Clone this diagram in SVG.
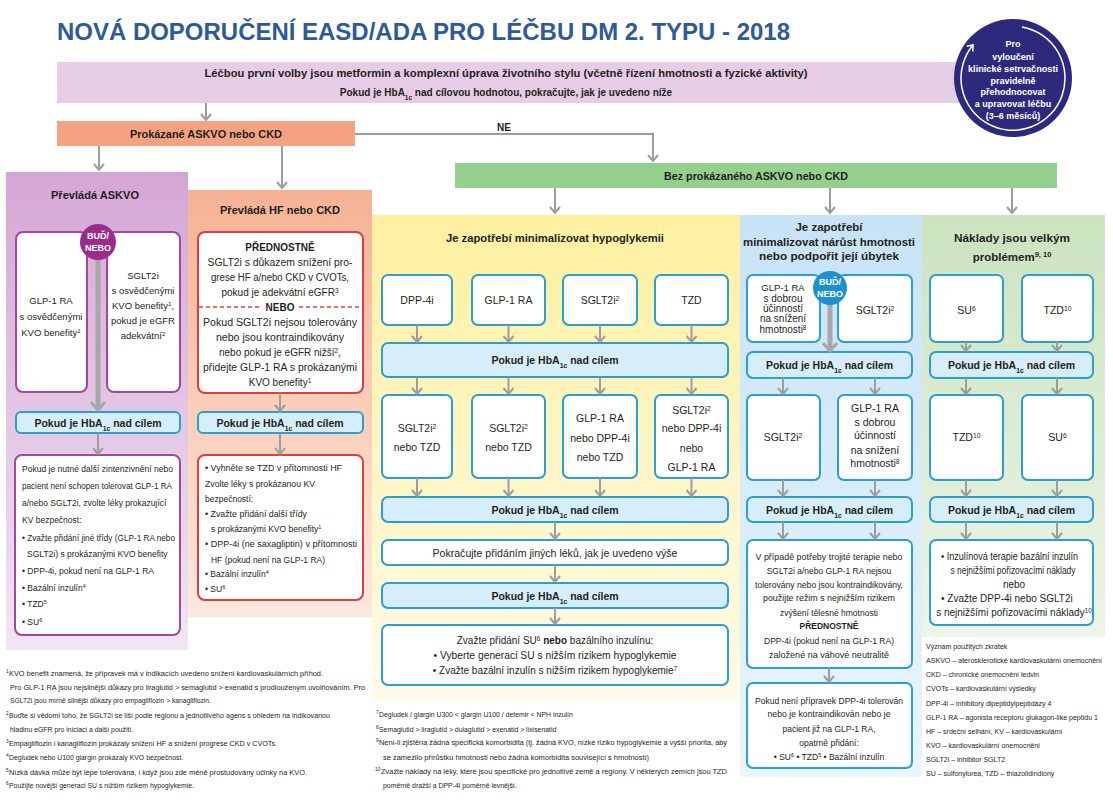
<svg xmlns="http://www.w3.org/2000/svg" width="1113" height="800" viewBox="0 0 1113 800">
<defs>
<style>
text{font-family:"Liberation Sans",Arial,sans-serif;fill:#231f20;font-size:10px}
.title{font-weight:bold;font-size:23px;fill:#2e5a9a}
.b{font-weight:bold}
.m{text-anchor:middle}
.h{font-size:11.5px;font-weight:bold}
.hb{font-size:10.5px;font-weight:bold;text-anchor:middle}
.k{font-size:10.5px}
.p{font-size:9.5px}
.s{font-size:8.5px}
.fn{font-size:6.9px}
.fs{font-size:4.8px}
.lg{font-size:7px}
.w{fill:#fff;font-weight:bold;font-size:9px}
.sup{font-size:65%;baseline-shift:super}
.sub{font-size:65%;baseline-shift:sub}
.box{fill:#fff;stroke:#2b9fd3;stroke-width:2}
.hba{fill:#d6eefb;stroke:#2b9fd3;stroke-width:2}
.pbox{fill:#fff;stroke:#a4489f;stroke-width:2}
.rbox{fill:#fff;stroke:#e33c3c;stroke-width:2}
.ar{stroke:#9d9d9d;stroke-width:2;fill:none;marker-end:url(#ah)}
.thick{stroke:#a8a8a8;stroke-width:5;fill:none;marker-end:url(#ah2)}
</style>
<marker id="ah" markerUnits="userSpaceOnUse" markerWidth="12" markerHeight="12" viewBox="0 0 12 12" refX="8" refY="6" orient="auto">
<path d="M2,1 L8,6 L2,11" fill="none" stroke="#9d9d9d" stroke-width="2"/>
</marker>
<marker id="ah2" markerUnits="userSpaceOnUse" markerWidth="16" markerHeight="16" viewBox="0 0 16 16" refX="11" refY="8" orient="auto">
<path d="M3,1 L11,8 L3,15" fill="none" stroke="#a8a8a8" stroke-width="3"/>
</marker>
<marker id="ahw" markerUnits="userSpaceOnUse" markerWidth="10" markerHeight="10" viewBox="0 0 10 10" refX="7" refY="5" orient="auto">
<path d="M2,1 L7,5 L2,9" fill="none" stroke="#fff" stroke-width="1.5"/>
</marker>
<linearGradient id="gP" x1="0" y1="0" x2="0" y2="1"><stop offset="0" stop-color="#d5a6d5"/><stop offset="1" stop-color="#f1e5f3"/></linearGradient>
<linearGradient id="gO" x1="0" y1="0" x2="0" y2="1"><stop offset="0" stop-color="#f6b293"/><stop offset="1" stop-color="#fde9de"/></linearGradient>
<linearGradient id="gY" x1="0" y1="0" x2="0" y2="1"><stop offset="0" stop-color="#fdf0a0"/><stop offset="1" stop-color="#fffbe8"/></linearGradient>
<linearGradient id="gB" x1="0" y1="0" x2="0" y2="1"><stop offset="0" stop-color="#c7e3f7"/><stop offset="1" stop-color="#eaf5fc"/></linearGradient>
<linearGradient id="gG" x1="0" y1="0" x2="0" y2="1"><stop offset="0" stop-color="#cbe3bf"/><stop offset="1" stop-color="#ecf5e7"/></linearGradient>
</defs>
<rect width="1113" height="800" fill="#fff"/>

<text class="title" x="57" y="40" textLength="733" lengthAdjust="spacingAndGlyphs">NOVÁ DOPORUČENÍ EASD/ADA PRO LÉČBU DM 2. TYPU - 2018</text>

<g id="first-line">
<rect x="57" y="62" width="905" height="41" fill="#e7cce6"/>
<text class="m b" x="506" y="77" textLength="603" lengthAdjust="spacingAndGlyphs">Léčbou první volby jsou metformin a komplexní úprava životního stylu (včetně řízení hmotnosti a fyzické aktivity)</text>
<text class="m b" x="506" y="96">Pokud je HbA<tspan class="sub">1c</tspan> nad cílovou hodnotou, pokračujte, jak je uvedeno níže</text>
</g>

<g id="reassess">
<circle cx="1013" cy="78" r="59" fill="#2d2a7d"/>
<path d="M1022,27 A52,52 0 1 1 973,45" fill="none" stroke="#fff" stroke-width="1.5" marker-end="url(#ahw)"/>
<text class="m w" x="1013" y="47">Pro</text>
<text class="m w" x="1013" y="60">vyloučení</text>
<text class="m w" x="1013" y="72" textLength="90" lengthAdjust="spacingAndGlyphs">klinické setrvačnosti</text>
<text class="m w" x="1013" y="84">pravidelně</text>
<text class="m w" x="1013" y="95">přehodnocovat</text>
<text class="m w" x="1013" y="107">a upravovat léčbu</text>
<text class="m w" x="1013" y="119">(3–6 měsíců)</text>
</g>

<g id="ascvd-ckd">
<rect x="57" y="121" width="298" height="25" fill="#f4a282"/>
<text class="m h" x="206" y="138" textLength="152" lengthAdjust="spacingAndGlyphs">Prokázané ASKVO nebo CKD</text>
</g>

<g id="no-ascvd">
<rect x="455" y="163" width="602" height="25" fill="#93cf8d"/>
<text class="m h" x="756" y="180" textLength="184" lengthAdjust="spacingAndGlyphs">Bez prokázaného ASKVO nebo CKD</text>
</g>

<g id="col-askvo">
<rect x="6" y="172" width="182" height="478" fill="url(#gP)"/>
<text class="m h" x="95" y="199" textLength="88" lengthAdjust="spacingAndGlyphs">Převládá ASKVO</text>
</g>
<g id="col-hf-ckd">
<rect x="188" y="190" width="184" height="427" fill="url(#gO)"/>
<text class="m h" x="280" y="214" textLength="120" lengthAdjust="spacingAndGlyphs">Převládá HF nebo CKD</text>
</g>
<g id="col-hypo">
<rect x="372" y="215" width="368" height="485" fill="url(#gY)"/>
<text class="m h" x="555" y="242" font-size="11" textLength="218" lengthAdjust="spacingAndGlyphs">Je zapotřebí minimalizovat hypoglykemii</text>
</g>
<g id="col-weight">
<rect x="740" y="215" width="182" height="562" fill="url(#gB)"/>
<text class="m h" x="829" y="231">Je zapotřebí</text>
<text class="m h" x="829" y="246" textLength="172" lengthAdjust="spacingAndGlyphs">minimalizovat nárůst hmotnosti</text>
<text class="m h" x="829" y="260" textLength="140" lengthAdjust="spacingAndGlyphs">nebo podpořit její úbytek</text>
</g>
<g id="col-cost">
<rect x="922" y="215" width="183" height="422" fill="url(#gG)"/>
<text class="m h" x="1012" y="242" textLength="116" lengthAdjust="spacingAndGlyphs">Náklady jsou velkým</text>
<text class="m h" x="1012" y="261">problémem<tspan class="sup">9, 10</tspan></text>
</g>

<!-- ASKVO column -->
<g id="askvo-glp1">
<rect class="pbox" x="16" y="232" width="71" height="160" rx="7"/>
<text class="m p" x="51" y="304">GLP-1 RA</text>
<text class="m p" x="51" y="320">s osvědčenými</text>
<text class="m p" x="51" y="336">KVO benefity<tspan class="sup">1</tspan></text>
</g>
<g id="askvo-sglt2">
<rect class="pbox" x="107" y="232" width="73" height="160" rx="7"/>
<text class="m p" x="143" y="279">SGLT2i</text>
<text class="m p" x="143" y="294">s osvědčenými</text>
<text class="m p" x="143" y="309">KVO benefity<tspan class="sup">1</tspan>,</text>
<text class="m p" x="143" y="324">pokud je eGFR</text>
<text class="m p" x="143" y="339">adekvátní<tspan class="sup">2</tspan></text>
</g>
<g id="askvo-hba">
<rect class="hba" x="16" y="412" width="164" height="21" rx="5"/>
<text class="hb" x="98" y="427">Pokud je HbA<tspan class="sub">1c</tspan> nad cílem</text>
</g>
<g id="askvo-next">
<rect class="pbox" x="15" y="455" width="165" height="180" rx="7"/>
<text class="s" x="22" y="472" textLength="151" lengthAdjust="spacingAndGlyphs">Pokud je nutné další zintenzivnění nebo</text>
<text class="s" x="22" y="489" textLength="150" lengthAdjust="spacingAndGlyphs">pacient není schopen tolerovat GLP-1 RA</text>
<text class="s" x="22" y="506">a/nebo SGLT2i, zvolte léky prokazující</text>
<text class="s" x="22" y="523">KV bezpečnost:</text>
<text class="s" x="22" y="541" textLength="153" lengthAdjust="spacingAndGlyphs">• Zvažte přidání jiné třídy (GLP-1 RA nebo</text>
<text class="s" x="27" y="557">SGLT2i) s prokázanými KVO benefity</text>
<text class="s" x="22" y="574">• DPP-4i, pokud není na GLP-1 RA</text>
<text class="s" x="22" y="591">• Bazální inzulín<tspan class="sup">4</tspan></text>
<text class="s" x="22" y="607">• TZD<tspan class="sup">5</tspan></text>
<text class="s" x="22" y="625">• SU<tspan class="sup">6</tspan></text>
</g>

<!-- HF/CKD column -->
<g id="hf-preferred">
<rect class="rbox" x="198" y="232" width="165" height="161" rx="7"/>
<text class="m b" x="280" y="251">PŘEDNOSTNĚ</text>
<text class="m" x="280" y="266" textLength="145" lengthAdjust="spacingAndGlyphs">SGLT2i s důkazem snížení pro-</text>
<text class="m" x="280" y="281" textLength="138" lengthAdjust="spacingAndGlyphs">grese HF a/nebo CKD v CVOTs,</text>
<text class="m" x="280" y="296">pokud je adekvátní eGFR<tspan class="sup">3</tspan></text>
<path d="M199,307 H261 M299,307 H362" stroke="#e33c3c" stroke-width="1.5" stroke-dasharray="4,3" fill="none"/>
<text class="m b" x="280" y="311">NEBO</text>
<text class="m" x="280" y="326" textLength="154" lengthAdjust="spacingAndGlyphs">Pokud SGLT2i nejsou tolerovány</text>
<text class="m" x="280" y="341" textLength="128" lengthAdjust="spacingAndGlyphs">nebo jsou kontraindikovány</text>
<text class="m" x="280" y="356">nebo pokud je eGFR nižší<tspan class="sup">2</tspan>,</text>
<text class="m" x="280" y="371" textLength="154" lengthAdjust="spacingAndGlyphs">přidejte GLP-1 RA s prokázanými</text>
<text class="m" x="280" y="386">KVO benefity<tspan class="sup">1</tspan></text>
</g>
<g id="hf-hba">
<rect class="hba" x="198" y="412" width="165" height="21" rx="5"/>
<text class="hb" x="280" y="427">Pokud je HbA<tspan class="sub">1c</tspan> nad cílem</text>
</g>
<g id="hf-next">
<rect class="rbox" x="198" y="455" width="165" height="145" rx="7"/>
<text class="s" x="205" y="471" textLength="137" lengthAdjust="spacingAndGlyphs">• Vyhněte se TZD v přítomnosti HF</text>
<text class="s" x="205" y="487" textLength="110" lengthAdjust="spacingAndGlyphs">Zvolte léky s prokázanou KV</text>
<text class="s" x="205" y="502">bezpečností:</text>
<text class="s" x="205" y="517" textLength="102" lengthAdjust="spacingAndGlyphs">• Zvažte přidání další třídy</text>
<text class="s" x="211" y="532">s prokázanými KVO benefity<tspan class="sup">1</tspan></text>
<text class="s" x="205" y="547" textLength="152" lengthAdjust="spacingAndGlyphs">• DPP-4i (ne saxagliptin) v přítomnosti</text>
<text class="s" x="211" y="563" textLength="114" lengthAdjust="spacingAndGlyphs">HF (pokud není na GLP-1 RA)</text>
<text class="s" x="205" y="577">• Bazální inzulín<tspan class="sup">4</tspan></text>
<text class="s" x="205" y="592">• SU<tspan class="sup">6</tspan></text>
</g>

<!-- Hypoglycaemia column -->
<g id="hypo-dpp4"><rect class="box" x="382" y="275" width="70" height="50" rx="6"/><text class="m k" x="417" y="304">DPP-4i</text></g>
<g id="hypo-glp1"><rect class="box" x="472" y="275" width="73" height="50" rx="6"/><text class="m k" x="508.5" y="304">GLP-1 RA</text></g>
<g id="hypo-sglt2"><rect class="box" x="563" y="275" width="74" height="50" rx="6"/><text class="m k" x="600" y="304">SGLT2i<tspan class="sup">2</tspan></text></g>
<g id="hypo-tzd"><rect class="box" x="655" y="275" width="73" height="50" rx="6"/><text class="m k" x="691.5" y="304">TZD</text></g>
<g id="hypo-hba1">
<rect class="hba" x="382" y="343" width="346" height="34" rx="6"/>
<text class="hb" x="555" y="364">Pokud je HbA<tspan class="sub">1c</tspan> nad cílem</text>
</g>
<g id="hypo-a"><rect class="box" x="382" y="395" width="70" height="83" rx="6"/>
<text class="m k" x="417" y="432">SGLT2i<tspan class="sup">2</tspan></text><text class="m k" x="417" y="451">nebo TZD</text></g>
<g id="hypo-b"><rect class="box" x="472" y="395" width="73" height="83" rx="6"/>
<text class="m k" x="508.5" y="432">SGLT2i<tspan class="sup">2</tspan></text><text class="m k" x="508.5" y="451">nebo TZD</text></g>
<g id="hypo-c"><rect class="box" x="563" y="395" width="74" height="83" rx="6"/>
<text class="m k" x="600" y="422">GLP-1 RA</text><text class="m k" x="600" y="442">nebo DPP-4i</text><text class="m k" x="600" y="461">nebo TZD</text></g>
<g id="hypo-d"><rect class="box" x="655" y="395" width="73" height="83" rx="6"/>
<text class="m k" x="691.5" y="414">SGLT2i<tspan class="sup">2</tspan></text><text class="m k" x="691.5" y="432">nebo DPP-4i</text><text class="m k" x="691.5" y="452">nebo</text><text class="m k" x="691.5" y="471">GLP-1 RA</text></g>
<g id="hypo-hba2">
<rect class="hba" x="382" y="497" width="346" height="25" rx="6"/>
<text class="hb" x="555" y="514">Pokud je HbA<tspan class="sub">1c</tspan> nad cílem</text>
</g>
<g id="hypo-continue">
<rect class="box" x="382" y="540" width="346" height="25" rx="6"/>
<text class="m" x="555" y="557" textLength="245" lengthAdjust="spacingAndGlyphs">Pokračujte přidáním jiných léků, jak je uvedeno výše</text>
</g>
<g id="hypo-hba3">
<rect class="hba" x="382" y="583" width="346" height="25" rx="6"/>
<text class="hb" x="555" y="600">Pokud je HbA<tspan class="sub">1c</tspan> nad cílem</text>
</g>
<g id="hypo-final">
<rect class="box" x="382" y="625" width="346" height="60" rx="6"/>
<text class="m" x="555" y="644">Zvažte přidání SU<tspan class="sup">6</tspan> <tspan class="b">nebo</tspan> bazálního inzulínu:</text>
<text class="m" x="555" y="659" textLength="243" lengthAdjust="spacingAndGlyphs">• Vyberte generaci SU s nižším rizikem hypoglykemie</text>
<text class="m" x="555" y="674">• Zvažte bazální inzulín s nižším rizikem hypoglykemie<tspan class="sup">7</tspan></text>
</g>

<!-- Weight column -->
<g id="wt-glp1">
<rect class="box" x="747" y="275" width="73" height="67" rx="6"/>
<text class="m p" x="783" y="291">GLP-1 RA</text>
<text class="m" x="783" y="302" font-size="8.5">s dobrou</text>
<text class="m" x="783" y="312" font-size="8.5">účinností</text>
<text class="m" x="783" y="322" font-size="8.5">na snížení</text>
<text class="m" x="783" y="333" font-size="8.5">hmotnosti<tspan class="sup">8</tspan></text>
</g>
<g id="wt-sglt2"><rect class="box" x="838" y="275" width="74" height="67" rx="6"/><text class="m k" x="875" y="314">SGLT2i<tspan class="sup">2</tspan></text></g>
<g id="wt-hba1">
<rect class="hba" x="747" y="352" width="165" height="26" rx="6"/>
<text class="hb" x="829.5" y="369">Pokud je HbA<tspan class="sub">1c</tspan> nad cílem</text>
</g>
<g id="wt-sglt2b"><rect class="box" x="747" y="395" width="73" height="85" rx="6"/><text class="m k" x="783" y="441">SGLT2i<tspan class="sup">2</tspan></text></g>
<g id="wt-glp1b">
<rect class="box" x="838" y="395" width="74" height="85" rx="6"/>
<text class="m k" x="875" y="412">GLP-1 RA</text>
<text class="m k" x="875" y="426">s dobrou</text>
<text class="m k" x="875" y="439">účinností</text>
<text class="m k" x="875" y="454">na snížení</text>
<text class="m k" x="875" y="467">hmotnosti<tspan class="sup">8</tspan></text>
</g>
<g id="wt-hba2">
<rect class="hba" x="747" y="497" width="165" height="25" rx="6"/>
<text class="hb" x="829.5" y="514">Pokud je HbA<tspan class="sub">1c</tspan> nad cílem</text>
</g>
<g id="wt-triple">
<rect class="box" x="747" y="540" width="165" height="128" rx="6"/>
<text class="m s" x="829" y="560" textLength="147" lengthAdjust="spacingAndGlyphs">V případě potřeby trojité terapie nebo</text>
<text class="m s" x="829" y="574">SGLT2i a/nebo GLP-1 RA nejsou</text>
<text class="m s" x="829" y="588" textLength="148" lengthAdjust="spacingAndGlyphs">tolerovány nebo jsou kontraindikovány,</text>
<text class="m s" x="829" y="601" textLength="132" lengthAdjust="spacingAndGlyphs">použijte režim s nejnižším rizikem</text>
<text class="m s" x="829" y="616">zvýšení tělesné hmotnosti</text>
<text class="m s b" x="829" y="629">PŘEDNOSTNĚ</text>
<text class="m s" x="829" y="644" textLength="130" lengthAdjust="spacingAndGlyphs">DPP-4i (pokud není na GLP-1 RA)</text>
<text class="m s" x="829" y="658" textLength="120" lengthAdjust="spacingAndGlyphs">založené na váhové neutralitě</text>
</g>
<g id="wt-last">
<rect class="box" x="747" y="683" width="165" height="85" rx="6"/>
<text class="m s" x="829" y="704" textLength="148" lengthAdjust="spacingAndGlyphs">Pokud není přípravek DPP-4i tolerován</text>
<text class="m s" x="829" y="717" textLength="123" lengthAdjust="spacingAndGlyphs">nebo je kontraindikován nebo je</text>
<text class="m s" x="829" y="732">pacient již na GLP-1 RA,</text>
<text class="m s" x="829" y="746">opatrně přidání:</text>
<text class="m s" x="829" y="760">• SU<tspan class="sup">6</tspan> • TZD<tspan class="sup">5</tspan> • Bazální inzulín</text>
</g>

<!-- Cost column -->
<g id="cost-su"><rect class="box" x="930" y="275" width="73" height="67" rx="6"/><text class="m k" x="966.5" y="314">SU<tspan class="sup">6</tspan></text></g>
<g id="cost-tzd"><rect class="box" x="1022" y="275" width="71" height="67" rx="6"/><text class="m k" x="1057.5" y="314">TZD<tspan class="sup">10</tspan></text></g>
<g id="cost-hba1">
<rect class="hba" x="930" y="352" width="163" height="26" rx="6"/>
<text class="hb" x="1011.5" y="369">Pokud je HbA<tspan class="sub">1c</tspan> nad cílem</text>
</g>
<g id="cost-tzdb"><rect class="box" x="930" y="395" width="73" height="85" rx="6"/><text class="m k" x="966.5" y="441">TZD<tspan class="sup">10</tspan></text></g>
<g id="cost-sub"><rect class="box" x="1022" y="395" width="71" height="85" rx="6"/><text class="m k" x="1057.5" y="441">SU<tspan class="sup">6</tspan></text></g>
<g id="cost-hba2">
<rect class="hba" x="930" y="497" width="163" height="25" rx="6"/>
<text class="hb" x="1011.5" y="514">Pokud je HbA<tspan class="sub">1c</tspan> nad cílem</text>
</g>
<g id="cost-final">
<rect class="box" x="930" y="540" width="163" height="85" rx="6"/>
<text x="941" y="560" font-size="8.3" textLength="137" lengthAdjust="spacingAndGlyphs">• Inzulínová terapie bazální inzulín</text>
<text class="m" x="1013" y="574" font-size="8.3" textLength="125" lengthAdjust="spacingAndGlyphs">s nejnižšími pořizovacími náklady</text>
<text class="m" x="1014" y="588" font-size="8.3">nebo</text>
<text x="941" y="602" font-size="8.3">• Zvažte DPP-4i nebo SGLT2i</text>
<text class="m" x="1014" y="616" font-size="8.3">s nejnižšími pořizovacími náklady<tspan class="sup">10</tspan></text>
</g>

<g id="connectors">
<path class="ar" d="M206,103 V120"/>
<path class="ar" d="M99,146 V170"/>
<path class="ar" d="M282,146 V188"/>
<path class="ar" d="M355,134 H653 V161"/>
<path class="ar" d="M555,188 V213"/>
<path class="ar" d="M830,188 V213"/>
<path class="ar" d="M1012,188 V213"/>
<path class="thick" d="M98,258 V410"/>
<path class="ar" d="M98,433 V454"/>
<path class="ar" d="M280,393 V411"/>
<path class="ar" d="M280,433 V454"/>
<path class="ar" d="M417,325 V342"/>
<path class="ar" d="M508.5,325 V342"/>
<path class="ar" d="M600,325 V342"/>
<path class="ar" d="M691.5,325 V342"/>
<path class="ar" d="M417,377 V394"/>
<path class="ar" d="M508.5,377 V394"/>
<path class="ar" d="M600,377 V394"/>
<path class="ar" d="M691.5,377 V394"/>
<path class="ar" d="M417,478 V496"/>
<path class="ar" d="M508.5,478 V496"/>
<path class="ar" d="M600,478 V496"/>
<path class="ar" d="M691.5,478 V496"/>
<path class="ar" d="M555,522 V539"/>
<path class="ar" d="M555,565 V582"/>
<path class="ar" d="M555,608 V624"/>
<path class="thick" d="M830,303 V351"/>
<path class="ar" d="M783,378 V394"/>
<path class="ar" d="M875,378 V394"/>
<path class="ar" d="M783,480 V496"/>
<path class="ar" d="M875,480 V496"/>
<path class="ar" d="M783,522 V539"/>
<path class="ar" d="M875,522 V539"/>
<path class="ar" d="M829,668 V682"/>
<path class="ar" d="M966,342 V351"/>
<path class="ar" d="M1057,342 V351"/>
<path class="ar" d="M966,378 V394"/>
<path class="ar" d="M1057,378 V394"/>
<path class="ar" d="M966,480 V496"/>
<path class="ar" d="M1057,480 V496"/>
<path class="ar" d="M966,522 V539"/>
<path class="ar" d="M1057,522 V539"/>
<text class="b" x="497" y="131" font-size="11.5">NE</text>
</g>

<g id="either-askvo">
<circle cx="98" cy="242" r="18" fill="#9b2b8d"/>
<text class="m w" x="98" y="239" font-size="10">BUĎ/</text>
<text class="m w" x="98" y="251" font-size="10">NEBO</text>
</g>
<g id="either-weight">
<circle cx="830" cy="288" r="17" fill="#1d8fd2"/>
<text class="m w" x="830" y="285" font-size="10">BUĎ/</text>
<text class="m w" x="830" y="297" font-size="10">NEBO</text>
</g>

<g id="footnotes-left">
<text class="fs" x="6" y="673">1</text>
<text class="fn" x="9" y="676" textLength="314" lengthAdjust="spacingAndGlyphs">KVO benefit znamená, že přípravek má v indikacích uvedeno snížení kardiovaskulárních příhod.</text>
<text class="fn" x="10" y="690" textLength="355" lengthAdjust="spacingAndGlyphs">Pro GLP-1 RA jsou nejsilnější důkazy pro liraglutid &gt; semaglutid &gt; exenatid s prodlouženým uvolňováním. Pro</text>
<text class="fn" x="10" y="703" textLength="201" lengthAdjust="spacingAndGlyphs">SGLT2i jsou mírně silnější důkazy pro empagliflozin &gt; kanagliflozin.</text>
<text class="fs" x="6" y="715">2</text>
<text class="fn" x="9" y="718" textLength="321" lengthAdjust="spacingAndGlyphs">Buďte si vědomi toho, že SGLT2i se liší podle regionu a jednotlivého agens s ohledem na indikovanou</text>
<text class="fn" x="10" y="732">hladinu eGFR pro iniciaci a další použití.</text>
<text class="fs" x="6" y="743">3</text>
<text class="fn" x="9" y="746" textLength="268" lengthAdjust="spacingAndGlyphs">Empagliflozin i kanagliflozin prokázaly snížení HF a snížení progrese CKD v CVOTs.</text>
<text class="fs" x="6" y="757">4</text>
<text class="fn" x="9" y="760">Degludek nebo U100 glargin prokázaly KVO bezpečnost.</text>
<text class="fs" x="6" y="772">5</text>
<text class="fn" x="9" y="775" textLength="298" lengthAdjust="spacingAndGlyphs">Nízká dávka může být lépe tolerována, i když jsou zde méně prostudovány účinky na KVO.</text>
<text class="fs" x="6" y="785">6</text>
<text class="fn" x="9" y="788">Použijte novější generaci SU s nižším rizikem hypoglykemie.</text>
</g>

<g id="footnotes-mid">
<text class="fs" x="376" y="714">7</text>
<text class="fn" x="379" y="717">Degludek / glargin U300 &lt; glargin U100 / detemir &lt; NPH inzulín</text>
<text class="fs" x="376" y="729">8</text>
<text class="fn" x="379" y="732">Semaglutid &gt; liraglutid &gt; dulaglutid &gt; exenatid &gt; lixisenatid</text>
<text class="fs" x="376" y="742">9</text>
<text class="fn" x="379" y="745" textLength="348" lengthAdjust="spacingAndGlyphs">Není-li zjištěna žádná specifická komorbidita (tj. žádná KVO, nízké riziko hypoglykemie a vyšší priorita, aby</text>
<text class="fn" x="383" y="760" textLength="266" lengthAdjust="spacingAndGlyphs">se zamezilo přírůstku hmotnosti nebo žádná komorbidita související s hmotností)</text>
<text class="fs" x="375" y="771">10</text>
<text class="fn" x="381" y="774" textLength="346" lengthAdjust="spacingAndGlyphs">Zvažte náklady na léky, které jsou specifické pro jednotlivé země a regiony. V některých zemích jsou TZD</text>
<text class="fn" x="383" y="788">poměrně dražší a DPP-4i poměrně levnější.</text>
</g>

<g id="legend">
<text class="lg" x="926" y="649">Význam použitých zkratek</text>
<text class="lg" x="926" y="663" textLength="176" lengthAdjust="spacingAndGlyphs">ASKVO – aterosklerotické kardiovaskulární onemocnění</text>
<text class="lg" x="926" y="677">CKD – chronické onemocnění ledvin</text>
<text class="lg" x="926" y="691">CVOTs – kardiovaskulární výsledky</text>
<text class="lg" x="926" y="706">DPP-4i – inhibitory dipeptidylpeptidázy 4</text>
<text class="lg" x="926" y="720" textLength="172" lengthAdjust="spacingAndGlyphs">GLP-1 RA – agonista receptoru glukagon-like peptidu 1</text>
<text class="lg" x="926" y="734">HF – srdeční selhání, KV – kardiovaskulární</text>
<text class="lg" x="926" y="748">KVO – kardiovaskulární onemocnění</text>
<text class="lg" x="926" y="762">SGLT2i – inhibitor SGLT2</text>
<text class="lg" x="926" y="776">SU – sulfonylurea, TZD – thiazolidindiony</text>
</g>
</svg>
